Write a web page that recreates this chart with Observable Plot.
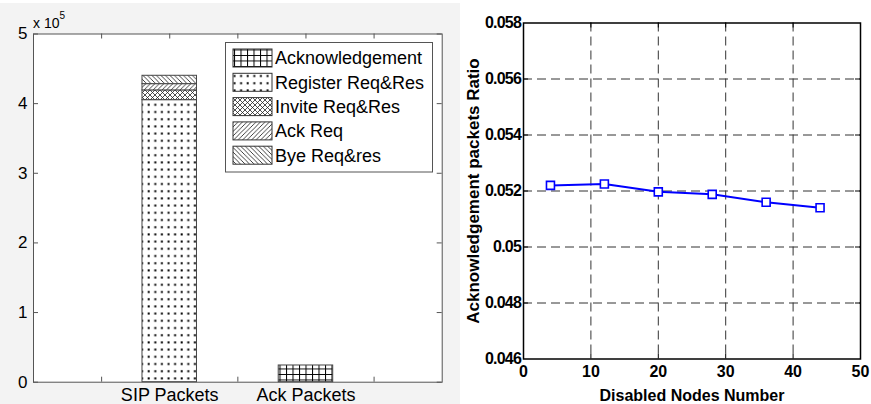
<!DOCTYPE html>
<html>
<head>
<meta charset="utf-8">
<script src="https://cdn.jsdelivr.net/npm/d3@7"></script>
<script src="https://cdn.jsdelivr.net/npm/@observablehq/plot@0.6"></script>
<style>
  html, body { margin: 0; padding: 0; background: #fff; }
  #wrap { position: relative; width: 871px; height: 404px; overflow: hidden; }
  #left { position: absolute; left: 0; top: 0; }
  #right { position: absolute; left: 460px; top: 0; }
  #right g[aria-label="y-axis tick label"] text { letter-spacing: -0.8px; }
  #right g[aria-label="xlabel"] text { letter-spacing: -0.9px; }
  #right g[aria-label="ylabel"] text { letter-spacing: -0.2px; }
</style>
</head>
<body>
<svg width="0" height="0" style="position:absolute">
  <defs>
    <pattern id="pAck" patternUnits="userSpaceOnUse" width="6.5" height="5.5">
      <rect width="6.5" height="5.5" fill="#fff"/>
      <path d="M0.5,0V5.5M0,0.5H6.5" stroke="#000" stroke-width="1"/>
    </pattern>
    <pattern id="pReg" patternUnits="userSpaceOnUse" width="6.6" height="7.2">
      <rect width="6.6" height="7.2" fill="#fff"/>
      <rect x="2.5" y="3" width="2" height="2" fill="#000"/>
    </pattern>
    <pattern id="pInv" patternUnits="userSpaceOnUse" width="5" height="5">
      <rect width="5" height="5" fill="#fff"/>
      <path d="M0,5L5,0M-1,1L1,-1M4,6L6,4M0,0L5,5M-1,4L1,6M4,-1L6,1" stroke="#222" stroke-width="0.8"/>
    </pattern>
    <pattern id="pAckReq" patternUnits="userSpaceOnUse" width="4.5" height="4.5">
      <rect width="4.5" height="4.5" fill="#fff"/>
      <path d="M0,4.5L4.5,0M-1,1L1,-1M3.5,5.5L5.5,3.5" stroke="#111" stroke-width="0.8"/>
    </pattern>
    <pattern id="pBye" patternUnits="userSpaceOnUse" width="4.5" height="4.5">
      <rect width="4.5" height="4.5" fill="#fff"/>
      <path d="M0,0L4.5,4.5M-1,3.5L1,5.5M3.5,-1L5.5,1" stroke="#111" stroke-width="0.8"/>
    </pattern>
  </defs>
</svg>
<div id="wrap">
  <div id="left"></div>
  <div id="right"></div>
</div>
<script>
// ---------- Data: left chart (stacked bars) ----------
const categories = ["SIP Packets", "Ack Packets"];
const legendNames = ["Acknowledgement", "Register Req&Res", "Invite Req&Res", "Ack Req", "Bye Req&res"];
const patternIds = ["pAck", "pReg", "pInv", "pAckReq", "pBye"];
const sipLayers = ["Register Req&Res", "Invite Req&Res", "Ack Req", "Bye Req&res"];
const sipValues = [405000, 14000, 9000, 12000];
const ackLayers = ["Acknowledgement"];
const ackValues = [24000];
const leftYTicks = [0, 100000, 200000, 300000, 400000, 500000];
const leftYTickLabels = ["0", "1", "2", "3", "4", "5"];
const leftXMinorTicks = [0.5, 1, 1.5, 2, 2.5];
const exponentBase = "x 10";
const exponentPower = "5";

// ---------- Data: right chart (line) ----------
const disabledNodes = [4, 12, 20, 28, 36, 44];
const ackRatio = [0.0522, 0.05225, 0.05197, 0.05188, 0.0516, 0.0514];
const rightXTicks = [0, 10, 20, 30, 40, 50];
const rightYTicks = [0.046, 0.048, 0.05, 0.052, 0.054, 0.056, 0.058];
const rightYTickLabels = ["0.046", "0.048", "0.05", "0.052", "0.054", "0.056", "0.058"];
const xAxisTitle = "Disabled Nodes Number";
const yAxisTitle = "Acknowledgement packets Ratio";

// ---------- Build stacked rows ----------
function stackRows(cat, pos, layers, values) {
  let acc = 0;
  return layers.map((type, i) => {
    const r = {cat, pos, type, y1: acc, y2: acc + values[i]};
    acc += values[i];
    return r;
  });
}
const barRows = [
  ...stackRows(categories[0], 1, sipLayers, sipValues),
  ...stackRows(categories[1], 2, ackLayers, ackValues)
];
const half = 0.2;

const lW = 460, lH = 404, lML = 33, lMR = 18.3, lMT = 33.5, lMB = 22.3;
const lPW = lW - lML - lMR, lPH = lH - lMT - lMB;
const tickLen = 5;

const left = Plot.plot({
  width: lW, height: lH,
  marginLeft: lML, marginRight: lMR, marginTop: lMT, marginBottom: lMB,
  style: {background: "linear-gradient(#fff 0 3px, #f3f3f3 3px)", fontFamily: "'Liberation Sans', Arial, sans-serif", fontSize: "17px", color: "#000"},
  x: {domain: [0, 3], axis: null},
  y: {domain: [0, 500000], axis: null},
  color: {domain: legendNames, range: patternIds.map(id => `url(#${id})`)},
  marks: [
    Plot.frame({fill: "#fff", stroke: null}),
    Plot.ruleX(leftXMinorTicks, {stroke: "#555", insetTop: lPH - tickLen}),
    Plot.ruleX(leftXMinorTicks, {stroke: "#555", insetBottom: lPH - tickLen}),
    Plot.ruleY(leftYTicks, {stroke: "#555", insetRight: lPW - tickLen}),
    Plot.ruleY(leftYTicks, {stroke: "#555", insetLeft: lPW - tickLen}),
    Plot.rect(barRows, {x1: d => d.pos - half, x2: d => d.pos + half, y1: "y1", y2: "y2", fill: "type", stroke: "#444", strokeWidth: 1}),
    Plot.axisY({ticks: leftYTicks, tickFormat: (d, i) => leftYTickLabels[i], tickSize: 0, tickPadding: 6, fontSize: 17, label: null}),
    Plot.axisX({ticks: [1, 2], tickFormat: d => categories[d - 1], tickSize: 0, tickPadding: 6, fontSize: 18, label: null}),
    Plot.frame({stroke: "#555", strokeWidth: 1})
  ]
});
document.getElementById("left").appendChild(left);

// legend and exponent
{
  const svg = d3.select(left);
  const lg = svg.append("g").attr("font-family", "'Liberation Sans', Arial, sans-serif").attr("font-size", 18).attr("text-anchor", "start");
  lg.append("rect").attr("x", 225.5).attr("y", 42.5).attr("width", 207).attr("height", 129.5)
    .attr("fill", "#fff").attr("stroke", "#555").attr("stroke-width", 1);
  legendNames.forEach((name, i) => {
    const cy = 58 + i * 24.3;
    lg.append("rect").attr("x", 233).attr("y", cy - 9).attr("width", 39).attr("height", 18)
      .attr("fill", `url(#${patternIds[i]})`).attr("stroke", "#333").attr("stroke-width", 1);
    lg.append("text").attr("x", 275).attr("y", cy).attr("dy", "0.36em").attr("fill", "#000")
      .attr("text-anchor", "start").text(name);
  });
  const ex = svg.append("text").attr("x", 33).attr("y", 28).attr("font-family", "'Liberation Sans', Arial, sans-serif")
    .attr("font-size", 14).attr("fill", "#000").attr("text-anchor", "start");
  ex.append("tspan").text(exponentBase);
  ex.append("tspan").attr("dy", -9).attr("font-size", 10).text(exponentPower);
}

// ---------- Right chart ----------
const lineRows = disabledNodes.map((x, i) => ({x, y: ackRatio[i]}));
const rW = 411, rH = 404, rML = 63, rMR = 11, rMT = 22.5, rMB = 45.5;
const rPW = rW - rML - rMR, rPH = rH - rMT - rMB;
const gridX = rightXTicks.slice(1, -1);
const gridY = rightYTicks.slice(1, -1);

const right = Plot.plot({
  width: rW, height: rH,
  marginLeft: rML, marginRight: rMR, marginTop: rMT, marginBottom: rMB,
  style: {background: "#fff", fontFamily: "'Liberation Sans', Arial, sans-serif", fontWeight: "bold", fontSize: "16px", color: "#000"},
  x: {domain: [0, 50], axis: null},
  y: {domain: [0.046, 0.058], axis: null},
  marks: [
    Plot.ruleX(gridX, {stroke: "#333", strokeDasharray: "9,5"}),
    Plot.ruleY(gridY, {stroke: "#333", strokeDasharray: "9,5"}),
    Plot.ruleX(gridX, {stroke: "#000", insetTop: rPH - tickLen}),
    Plot.ruleX(gridX, {stroke: "#000", insetBottom: rPH - tickLen}),
    Plot.ruleY(gridY, {stroke: "#000", insetRight: rPW - tickLen}),
    Plot.ruleY(gridY, {stroke: "#000", insetLeft: rPW - tickLen}),
    Plot.axisX({ticks: rightXTicks, tickFormat: d => String(d), tickSize: 0, tickPadding: 7, fontSize: 16, fontWeight: "bold", label: null}),
    Plot.axisY({ticks: rightYTicks, tickFormat: (d, i) => rightYTickLabels[i], tickSize: 0, tickPadding: 2.5, fontSize: 16, fontWeight: "bold", label: null}),
    Plot.text([xAxisTitle], {frameAnchor: "bottom", lineAnchor: "bottom", textAnchor: "middle", dy: 41.5, fontSize: 16, fontWeight: "bold", fill: "#000", ariaLabel: "xlabel"}),
    Plot.text([yAxisTitle], {frameAnchor: "left", textAnchor: "middle", lineAnchor: "middle", rotate: -90, dx: -50, fontSize: 17, fontWeight: "bold", fill: "#000", ariaLabel: "ylabel"}),
    Plot.frame({stroke: "#000", strokeWidth: 1.5}),
    Plot.line(lineRows, {x: "x", y: "y", stroke: "#0000ff", strokeWidth: 2}),
    Plot.dot(lineRows, {x: "x", y: "y", symbol: "square", r: 4.5, stroke: "#0000ff", strokeWidth: 1.6, fill: "#fff"})
  ]
});
document.getElementById("right").appendChild(right);
</script>
</body>
</html>
